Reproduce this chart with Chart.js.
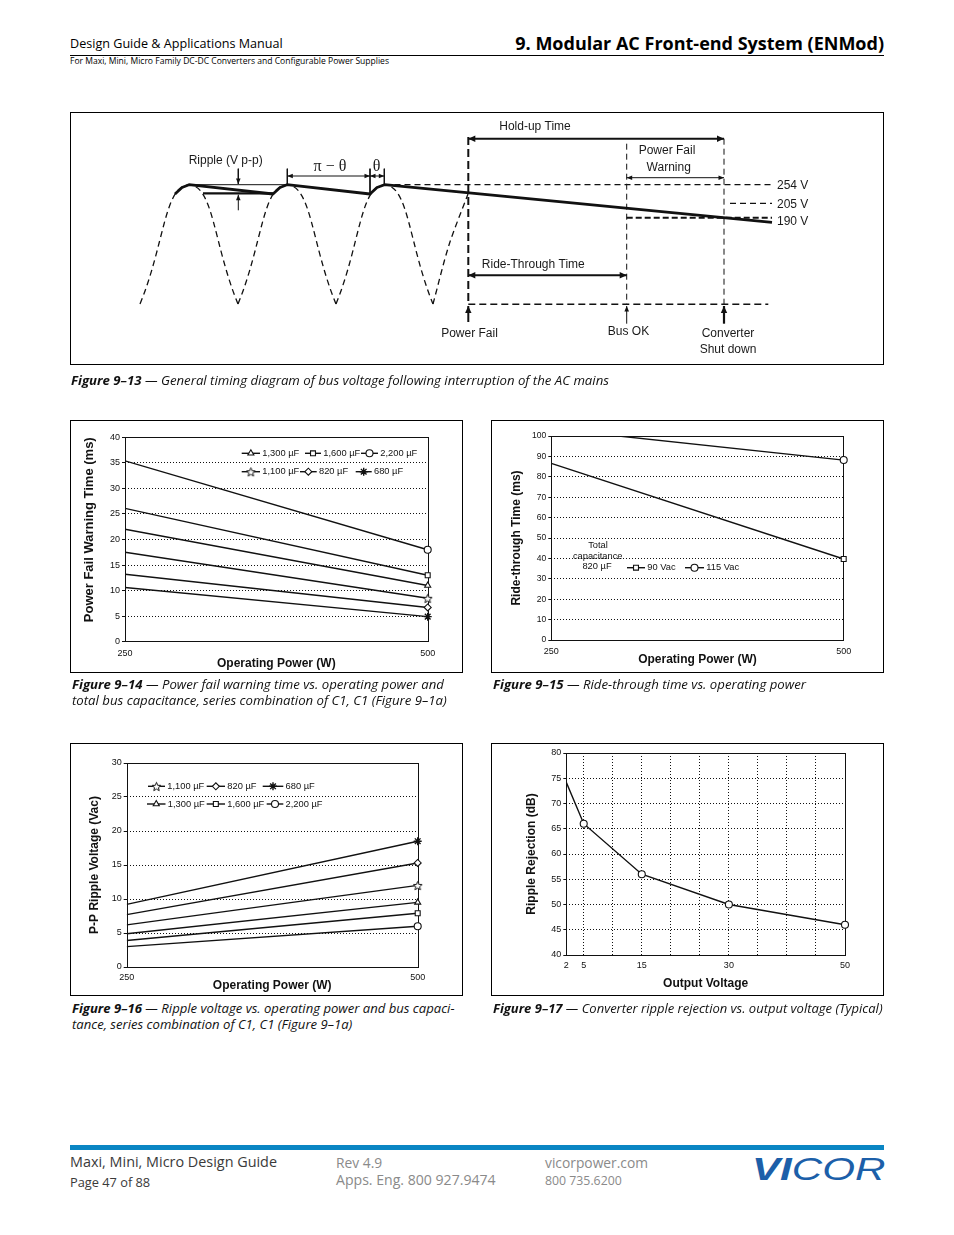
<!DOCTYPE html>
<html lang="en">
<head>
<meta charset="UTF-8">
<meta name="viewport" content="width=device-width, initial-scale=1.0">
<title>9. Modular AC Front-end System (ENMod)</title>
<script src="https://cdn.jsdelivr.net/npm/chart.js"></script>
<style>
  body { margin: 0; background: #fff; }
  .page { position: relative; width: 954px; height: 1235px; overflow: hidden; font-family: 'Open Sans', 'Noto Sans', sans-serif; color: #000; }
  .t { position: absolute; white-space: nowrap; line-height: 1; }
  .fig { position: absolute; }
  .fig canvas { position: absolute; left: 0; top: 0; }
  .fig .frame { position: absolute; left: 0; top: 0; right: 0; bottom: 0; border: 1px solid #000; pointer-events: none; }
  .cap { font-style: italic; font-size: 13.2px; color: #111; }
  .cap b { font-weight: 700; }
  .foot { color: #3a3a3a; }
  .grey { color: #8a8a8a; }
</style>
</head>
<body>
<div class="page">
  <div class="t" style="left:70px;top:38px;font-size:12.6px;">Design Guide &amp; Applications Manual</div>
  <div class="t" style="right:70px;top:33.5px;font-size:18px;font-weight:700;">9. Modular AC Front-end System (ENMod)</div>
  <div style="position:absolute;left:70px;top:55px;width:814px;height:1px;background:#000;"></div>
  <div class="t" style="left:70px;top:56.5px;font-size:8.55px;">For Maxi, Mini, Micro Family DC-DC Converters and Configurable Power Supplies</div>

  <div class="fig" style="left:70px;top:112px;width:814px;height:253px;">
    <canvas id="fig13" width="814" height="253"></canvas><div class="frame"></div>
  </div>
  <div class="t cap" style="left:71px;top:374px;"><b>Figure 9–13</b> — General timing diagram of bus voltage following interruption of the AC mains</div>

  <div class="fig" style="left:70px;top:420px;width:393px;height:253px;">
    <canvas id="fig14" width="393" height="253"></canvas><div class="frame"></div>
  </div>
  <div class="fig" style="left:491px;top:420px;width:393px;height:253px;">
    <canvas id="fig15" width="393" height="253"></canvas><div class="frame"></div>
  </div>
  <div class="t cap" style="left:72px;top:678px;"><b>Figure 9–14</b> — Power fail warning time vs. operating power and</div>
  <div class="t cap" style="left:72px;top:694px;">total bus capacitance, series combination of C1, C1 (Figure 9–1a)</div>
  <div class="t cap" style="left:493px;top:678px;"><b>Figure 9–15</b> — Ride-through time vs. operating power</div>

  <div class="fig" style="left:70px;top:743px;width:393px;height:253px;">
    <canvas id="fig16" width="393" height="253"></canvas><div class="frame"></div>
  </div>
  <div class="fig" style="left:491px;top:743px;width:393px;height:253px;">
    <canvas id="fig17" width="393" height="253"></canvas><div class="frame"></div>
  </div>
  <div class="t cap" style="left:72px;top:1002px;font-size:13.1px;"><b>Figure 9–16</b> — Ripple voltage vs. operating power and bus capaci-</div>
  <div class="t cap" style="left:72px;top:1017.5px;font-size:13.1px;">tance, series combination of C1, C1 (Figure 9–1a)</div>
  <div class="t cap" style="left:493px;top:1002px;font-size:13px;"><b>Figure 9–17</b> — Converter ripple rejection vs. output voltage (Typical)</div>

  <div style="position:absolute;left:70px;top:1145px;width:814px;height:4.5px;background:#0a86c4;"></div>
  <div class="t foot" style="left:70px;top:1155px;font-size:14.4px;">Maxi, Mini, Micro Design Guide</div>
  <div class="t foot" style="left:70px;top:1176px;font-size:12.8px;">Page 47 of 88</div>
  <div class="t grey" style="left:336px;top:1155.5px;font-size:13.8px;">Rev 4.9</div>
  <div class="t grey" style="left:336px;top:1172.5px;font-size:14.1px;">Apps. Eng. 800 927.9474</div>
  <div class="t grey" style="left:545px;top:1155.5px;font-size:13.8px;">vicorpower.com</div>
  <div class="t grey" style="left:545px;top:1174.5px;font-size:12.3px;">800 735.6200</div>
  <div class="t" style="left:752px;top:1153.5px;font-size:31px;font-family:'Liberation Sans',Arial,sans-serif;color:#1c5fa9;font-style:italic;transform:scaleX(1.36);transform-origin:left top;"><span style="font-weight:700;">VI</span>COR</div>
</div>

<script>
  // ---- chart values ----
  const powerW = [250, 500];
  const powerTicks = [250, 500];

  // Figure 9-14: power fail warning time (ms) at 250 W / 500 W
  const warnLabels = ['2,200 µF', '1,600 µF', '1,300 µF', '1,100 µF', '820 µF', '680 µF'];
  const warn2200 = [35.4, 18.0];
  const warn1600 = [26.1, 13.0];
  const warn1300 = [22.0, 11.0];
  const warn1100 = [17.5, 8.5];
  const warn820 = [13.2, 6.7];
  const warn680 = [10.6, 4.9];
  const warnTicks = [0, 5, 10, 15, 20, 25, 30, 35, 40];

  // Figure 9-15: ride-through time (ms), total capacitance 820 uF
  const rideLabels = ['90 Vac', '115 Vac'];
  const ride90 = [86.6, 39.7];
  const ride115 = [103.5, 88.2];
  const rideTicks = [0, 10, 20, 30, 40, 50, 60, 70, 80, 90, 100];

  // Figure 9-16: p-p ripple voltage (Vac)
  const rippleLabels = ['1,100 µF', '820 µF', '680 µF', '1,300 µF', '1,600 µF', '2,200 µF'];
  const ripple1100 = [6.2, 12.0];
  const ripple820 = [7.7, 15.3];
  const ripple680 = [9.2, 18.5];
  const ripple1300 = [4.9, 9.5];
  const ripple1600 = [3.9, 7.9];
  const ripple2200 = [3.0, 6.0];
  const rippleTicks = [0, 5, 10, 15, 20, 25, 30];

  // Figure 9-17: ripple rejection (dB) vs output voltage
  const outVolts = [2, 5, 15, 30, 50];
  const rejectionDb = [74.2, 66, 56, 50, 46];
  const voltGrid = [2, 5, 10, 15, 20, 25, 30, 35, 40, 45, 50];
  const voltLabels = [2, 5, 15, 30, 50];
  const dbTicks = [40, 45, 50, 55, 60, 65, 70, 75, 80];

  // Figure 9-13 is a schematic, sketched in its own 814 x 253 drawing space
  const sketchArcs = [
    [[70, 192], [119, 73], [168, 192]],
    [[168, 192], [217, 73], [266, 192]],
    [[266, 192], [314.5, 73], [363, 192]],
    [[363, 192], [379, 133], [398, 82]]
  ];
  const busVoltage = [[105, 82], [112, 75.5], [119, 72.7], [203, 82], [210, 75.5], [217, 72.7],
                      [300, 82], [307, 75.5], [314.5, 72.7], [702, 110.3]];
  const sketchLines = [
    { pts: [[119, 72.7], [217, 72.7]], w: 1 },
    { pts: [[133, 81.3], [203, 81.3]], w: 2.2 },
    { pts: [[168.3, 56.7], [168.3, 72]], w: 1, arrow: 'end' },
    { pts: [[168.3, 98.3], [168.3, 82.7]], w: 1, arrow: 'end' },
    { pts: [[217.3, 56.7], [217.3, 72.7]], w: 1 },
    { pts: [[300, 56.7], [300, 81]], w: 1 },
    { pts: [[314.3, 56.7], [314.3, 72.7]], w: 1 },
    { pts: [[217.3, 64], [300, 64]], w: 1, arrow: 'both' },
    { pts: [[300, 64], [314.3, 64]], w: 1, arrow: 'both' },
    { pts: [[314.5, 72.7], [702, 72.7]], w: 1.2, dash: [6, 4] },
    { pts: [[660, 91.3], [702, 91.3]], w: 1.2, dash: [6, 4] },
    { pts: [[556.7, 105.7], [702, 105.7]], w: 2, dash: [6, 3] },
    { pts: [[398.3, 25], [398.3, 192]], w: 2, dash: [8, 4] },
    { pts: [[556.7, 31.7], [556.7, 192]], w: 1, dash: [6, 4] },
    { pts: [[654, 26.7], [654, 192]], w: 1, dash: [6, 4] },
    { pts: [[398.3, 192.3], [698.3, 192.3]], w: 1.5, dash: [7, 4] },
    { pts: [[398.3, 26.7], [654, 26.7]], w: 2, arrow: 'both' },
    { pts: [[556.7, 65.7], [654, 65.7]], w: 1, arrow: 'both' },
    { pts: [[398.3, 163.3], [556.7, 163.3]], w: 2, arrow: 'both' },
    { pts: [[398.3, 210], [398.3, 194]], w: 2, arrow: 'end' },
    { pts: [[556.7, 211.7], [556.7, 194]], w: 1, arrow: 'end' },
    { pts: [[654, 211.7], [654, 194]], w: 2.2, arrow: 'end' }
  ];
  const sketchLabels = [
    { text: 'Ripple (V p-p)', x: 155.7, y: 48.3 },
    { text: 'π − θ', x: 260, y: 55, serif: true },
    { text: 'θ', x: 306.7, y: 55, serif: true },
    { text: 'Hold-up Time', x: 465, y: 15 },
    { text: 'Power Fail', x: 597, y: 39 },
    { text: 'Warning', x: 598.7, y: 55.7 },
    { text: '254 V', x: 707, y: 73.5, align: 'left' },
    { text: '205 V', x: 707, y: 92.3, align: 'left' },
    { text: '190 V', x: 707, y: 110, align: 'left' },
    { text: 'Ride-Through Time', x: 463.3, y: 152.7 },
    { text: 'Power Fail', x: 399.5, y: 221.7 },
    { text: 'Bus OK', x: 558.5, y: 220 },
    { text: 'Converter', x: 658, y: 221.7 },
    { text: 'Shut down', x: 658, y: 237.3 }
  ];

  // ---- drawing ----
  const INK = '#111';
  const SANS = "'Liberation Sans', Arial, Helvetica, sans-serif";
  Chart.defaults.font.family = SANS;
  Chart.defaults.color = INK;

  // open five-point star marker (1,100 uF)
  function starMark(r) {
    const c = document.createElement('canvas');
    const s = Math.ceil(r * 2 + 3);
    c.width = s; c.height = s;
    const g = c.getContext('2d');
    g.translate(s / 2, s / 2 + 0.6);
    g.beginPath();
    for (let i = 0; i < 10; i++) {
      const rr = i % 2 ? r * 0.45 : r;
      const a = -Math.PI / 2 + i * Math.PI / 5;
      g.lineTo(rr * Math.cos(a), rr * Math.sin(a));
    }
    g.closePath();
    g.fillStyle = '#fff'; g.fill();
    g.strokeStyle = INK; g.lineWidth = 1; g.stroke();
    return c;
  }
  const STAR = starMark(4.6);

  function series(label, xs, ys, style) {
    return {
      label: label,
      data: xs.map((x, i) => ({ x: x, y: ys[i] })),
      borderColor: INK, borderWidth: 1.4, fill: false, tension: 0,
      clip: { left: 0, top: 0, right: 8, bottom: 0 },
      pointStyle: style,
      pointRadius: ys.map((v, i) => (i === 0 ? 0 : (style === 'star' ? 4 : 3.5))),
      pointBorderColor: INK, pointBackgroundColor: '#fff',
      pointBorderWidth: style === 'star' ? 1.4 : 1.1
    };
  }

  const plotFrame = {
    id: 'plotFrame',
    beforeDatasetsDraw(chart) {
      const { ctx, chartArea: a } = chart;
      ctx.save();
      ctx.strokeStyle = INK; ctx.lineWidth = 1; ctx.setLineDash([]);
      ctx.strokeRect(Math.round(a.left) + 0.5, Math.round(a.top) + 0.5, Math.round(a.width), Math.round(a.height));
      ctx.restore();
    }
  };

  function marker(ctx, style, x, y, bw) {
    if (Chart.helpers && Chart.helpers.drawPoint) {
      Chart.helpers.drawPoint(ctx, { pointStyle: style, radius: style === 'star' ? 4 : 3.5, borderWidth: bw, rotation: 0 }, x, y);
    } else {
      ctx.beginPath(); ctx.arc(x, y, 3.5, 0, Math.PI * 2); ctx.fill(); ctx.stroke();
    }
  }

  const keyBox = {
    id: 'keyBox',
    afterDatasetsDraw(chart, args, opts) {
      const ctx = chart.ctx;
      ctx.save();
      ctx.font = '9.3px ' + SANS;
      ctx.textBaseline = 'middle';
      ctx.fillStyle = INK;
      ctx.textAlign = 'center';
      (opts.notes || []).forEach(n => ctx.fillText(n.text, n.x, n.y));
      ctx.textAlign = 'left';
      (opts.items || []).forEach(it => {
        const ds = chart.data.datasets[it.ds];
        ctx.strokeStyle = INK; ctx.setLineDash([]);
        ctx.lineWidth = ds.borderWidth;
        ctx.beginPath(); ctx.moveTo(it.x, it.y); ctx.lineTo(it.x + it.w, it.y); ctx.stroke();
        ctx.fillStyle = '#fff'; ctx.lineWidth = ds.pointBorderWidth;
        marker(ctx, ds.pointStyle, it.x + it.w / 2, it.y, ds.pointBorderWidth);
        ctx.fillStyle = INK;
        ctx.fillText(ds.label, it.x + it.w + 2.3, it.y);
      });
      ctx.restore();
    }
  };

  function scaleSet(o) {
    return {
      x: {
        type: 'linear', min: o.x.min, max: o.x.max,
        afterBuildTicks: s => { s.ticks = o.x.ticks.map(v => ({ value: v })); },
        afterFit: s => { s.height = o.x.h; },
        ticks: { font: { size: 9 }, padding: o.x.pad, maxRotation: 0, autoSkip: false,
                 callback: v => (o.x.labels.includes(v) ? String(v) : '') },
        grid: { drawOnChartArea: !!o.x.grid, drawTicks: false, color: INK, lineWidth: 1 },
        border: { display: false, dash: [1, 2] },
        title: { display: true, text: o.x.title, color: INK, font: { size: 12, weight: 'bold' },
                 padding: { top: 0, bottom: o.x.tpad } }
      },
      y: {
        type: 'linear', min: o.y.min, max: o.y.max,
        afterBuildTicks: s => { s.ticks = o.y.ticks.map(v => ({ value: v })); },
        afterFit: s => { s.width = o.y.w; },
        ticks: { font: { size: o.y.fs || 9 }, padding: 2, autoSkip: false },
        grid: { drawOnChartArea: true, drawTicks: true, tickLength: 3, color: INK, lineWidth: 1 },
        border: { display: false, dash: [1, 2] },
        title: { display: true, text: o.y.title, align: o.y.align || 'center', color: INK,
                 font: { size: o.y.ts || 12, weight: 'bold' }, padding: { top: o.y.tpad, bottom: 0 } }
      }
    };
  }

  function plot(id, datasets, scales, pad, key) {
    return new Chart(document.getElementById(id), {
      type: 'line',
      data: { datasets: datasets },
      options: {
        responsive: false, devicePixelRatio: 1, animation: false, events: [],
        layout: { padding: pad },
        scales: scales,
        plugins: { legend: { display: false }, tooltip: { enabled: false }, keyBox: key }
      },
      plugins: [plotFrame, keyBox]
    });
  }

  // Figure 9-14
  plot('fig14', [
    series(warnLabels[0], powerW, warn2200, 'circle'),
    series(warnLabels[1], powerW, warn1600, 'rect'),
    series(warnLabels[2], powerW, warn1300, 'triangle'),
    series(warnLabels[3], powerW, warn1100, STAR),
    series(warnLabels[4], powerW, warn820, 'rectRot'),
    series(warnLabels[5], powerW, warn680, 'star')
  ], scaleSet({
    x: { min: 250, max: 500, ticks: powerTicks, labels: powerTicks, h: 31.3, pad: 6.2, title: 'Operating Power (W)', tpad: 2.5 },
    y: { min: 0, max: 40, ticks: warnTicks, w: 55, title: 'Power Fail Warning Time (ms)', ts: 13, tpad: 11.6, align: 'end' }
  }), { top: 17.3, right: 35.3, left: 0, bottom: 0 }, {
    items: [
      { ds: 2, x: 171.7, y: 33.3, w: 18.3 }, { ds: 1, x: 235, y: 33.3, w: 16 }, { ds: 0, x: 291, y: 33.3, w: 17 },
      { ds: 3, x: 171.7, y: 51.7, w: 18.3 }, { ds: 4, x: 230, y: 51.7, w: 16.7 }, { ds: 5, x: 285.7, y: 51.7, w: 16 }
    ]
  });

  // Figure 9-15
  plot('fig15', [
    series(rideLabels[0], powerW, ride90, 'rect'),
    series(rideLabels[1], powerW, ride115, 'circle')
  ], scaleSet({
    x: { min: 250, max: 500, ticks: powerTicks, labels: powerTicks, h: 33, pad: 6.3, title: 'Operating Power (W)', tpad: 5.8 },
    y: { min: 0, max: 100, ticks: rideTicks, w: 60.3, fs: 8.5, title: 'Ride-through Time (ms)', tpad: 18.8 }
  }), { top: 16, right: 40.3, left: 0, bottom: 0 }, {
    notes: [
      { text: 'Total', x: 107, y: 125 },
      { text: 'capacitance', x: 106.7, y: 136 },
      { text: '820 µF', x: 106, y: 146.7 }
    ],
    items: [{ ds: 0, x: 136, y: 147.7, w: 18 }, { ds: 1, x: 194, y: 147.7, w: 19 }]
  });

  // Figure 9-16
  plot('fig16', [
    series(rippleLabels[0], powerW, ripple1100, STAR),
    series(rippleLabels[1], powerW, ripple820, 'rectRot'),
    series(rippleLabels[2], powerW, ripple680, 'star'),
    series(rippleLabels[3], powerW, ripple1300, 'triangle'),
    series(rippleLabels[4], powerW, ripple1600, 'rect'),
    series(rippleLabels[5], powerW, ripple2200, 'circle')
  ], scaleSet({
    x: { min: 250, max: 500, ticks: powerTicks, labels: powerTicks, h: 29, pad: 5.6, title: 'Operating Power (W)', tpad: 3.1 },
    y: { min: 0, max: 30, ticks: rippleTicks, w: 56.7, title: 'P-P Ripple Voltage (Vac)', tpad: 17.8 }
  }), { top: 20, right: 45.3, left: 0, bottom: 0 }, {
    items: [
      { ds: 0, x: 78, y: 43.3, w: 17 }, { ds: 1, x: 136.7, y: 43.3, w: 18.3 }, { ds: 2, x: 192.7, y: 43.3, w: 20.6 },
      { ds: 3, x: 77, y: 61, w: 18.5 }, { ds: 4, x: 136.7, y: 61, w: 18.3 }, { ds: 5, x: 196.7, y: 61, w: 16.6 }
    ]
  });

  // Figure 9-17
  plot('fig17', [
    series('Ripple rejection', outVolts, rejectionDb, 'circle')
  ], scaleSet({
    x: { min: 2, max: 50, ticks: voltGrid, labels: voltLabels, h: 41, pad: 5.3, grid: true, title: 'Output Voltage', tpad: 5.1 },
    y: { min: 40, max: 80, ticks: dbTicks, w: 75.3, title: 'Ripple Rejection (dB)', tpad: 33.5 }
  }), { top: 10, right: 39, left: 0, bottom: 0 }, {});

  // Figure 9-13 timing diagram
  const arrowHeads = {
    id: 'arrowHeads',
    afterDatasetsDraw(chart) {
      const ctx = chart.ctx;
      chart.data.datasets.forEach((ds, i) => {
        if (!ds.arrow) return;
        const pts = chart.getDatasetMeta(i).data;
        const ends = [[pts[pts.length - 1], pts[pts.length - 2]]];
        if (ds.arrow === 'both') ends.push([pts[0], pts[1]]);
        const big = ds.borderWidth > 1.5;
        ends.forEach(([tip, from]) => {
          const a = Math.atan2(tip.y - from.y, tip.x - from.x);
          const len = big ? 7 : 5.5, half = big ? 3.2 : 2.3;
          ctx.save();
          ctx.translate(tip.x, tip.y); ctx.rotate(a);
          ctx.beginPath(); ctx.moveTo(0, 0); ctx.lineTo(-len, -half); ctx.lineTo(-len, half); ctx.closePath();
          ctx.fillStyle = INK; ctx.fill();
          ctx.restore();
        });
      });
    }
  };

  const sketchText = {
    id: 'sketchText',
    afterDatasetsDraw(chart) {
      const { ctx, scales } = chart;
      ctx.save();
      ctx.fillStyle = '#1a1a1a'; ctx.textBaseline = 'middle';
      sketchLabels.forEach(l => {
        ctx.font = l.serif ? "16px 'Liberation Serif', 'DejaVu Serif', serif" : '12px ' + SANS;
        ctx.textAlign = l.align || 'center';
        ctx.fillText(l.text, scales.x.getPixelForValue(l.x), scales.y.getPixelForValue(l.y));
      });
      ctx.restore();
    }
  };

  const toXY = pts => pts.map(p => ({ x: p[0], y: p[1] }));
  const sketchSets = [];
  sketchArcs.forEach((arc, i) => sketchSets.push({
    data: toXY(arc), showLine: true, borderColor: INK, borderWidth: 1.3, borderDash: [6, 4],
    pointRadius: 0, tension: i < 3 ? 0.5 : 0.3, fill: false
  }));
  sketchLines.forEach(l => sketchSets.push({
    data: toXY(l.pts), showLine: true, borderColor: INK, borderWidth: l.w, borderDash: l.dash || [],
    borderCapStyle: 'butt', pointRadius: 0, tension: 0, fill: false, arrow: l.arrow || null
  }));
  sketchSets.push({
    data: toXY(busVoltage), showLine: true, borderColor: INK, borderWidth: 2.8,
    pointRadius: 0, tension: 0, fill: false, borderJoinStyle: 'round'
  });

  new Chart(document.getElementById('fig13'), {
    type: 'scatter',
    data: { datasets: sketchSets },
    options: {
      responsive: false, devicePixelRatio: 1, animation: false, events: [],
      layout: { padding: 0 },
      scales: {
        x: { type: 'linear', min: 0, max: 814, display: false },
        y: { type: 'linear', min: 0, max: 253, reverse: true, display: false }
      },
      plugins: { legend: { display: false }, tooltip: { enabled: false } }
    },
    plugins: [arrowHeads, sketchText]
  });
</script>
</body>
</html>
